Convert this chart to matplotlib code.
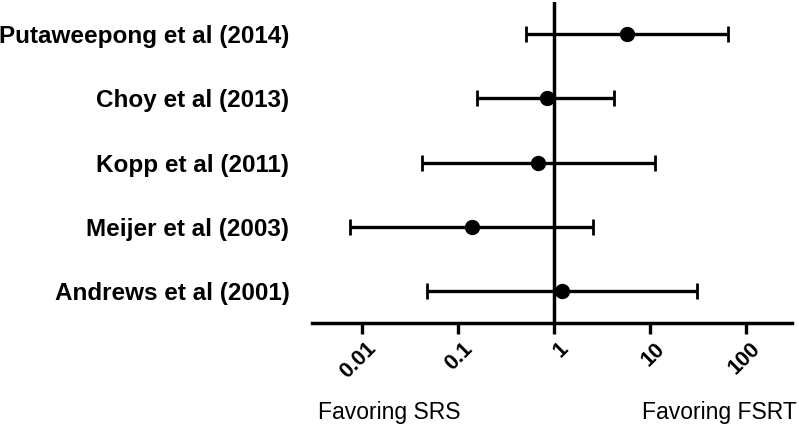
import matplotlib.pyplot as plt
import matplotlib.transforms as mtransforms
from matplotlib.ticker import FixedLocator, FixedFormatter

plt.rcParams['font.family'] = ['Liberation Sans', 'DejaVu Sans']

studies = ['Putaweepong et al (2014)', 'Choy et al (2013)', 'Kopp et al (2011)',
           'Meijer et al (2003)', 'Andrews et al (2001)']
estimate = [5.7, 0.84, 0.69, 0.141, 1.22]
lower = [0.515, 0.16, 0.0426, 0.0076, 0.048]
upper = [65.6, 4.19, 11.3, 2.57, 30.9]
ticks = [0.01, 0.1, 1, 10, 100]
tick_labels = ['0.01', '0.1', '1', '10', '100']

fig = plt.figure(figsize=(7.99, 4.25), dpi=100)
ax = fig.add_axes([0.39, 0.24, 0.601, 0.755])

ypos = list(range(len(studies), 0, -1))
err_lo = [e - l for e, l in zip(estimate, lower)]
err_hi = [u - e for e, u in zip(estimate, upper)]
ax.errorbar(estimate, ypos, xerr=[err_lo, err_hi], fmt='o', color='black',
            markersize=10, elinewidth=2.4, capsize=5.5, capthick=2, zorder=3)
ax.axvline(1, color='black', lw=2.5, zorder=2)

ax.set_xscale('log')
ax.set_xlim(0.003, 300)
ax.set_ylim(0.5, 5.5)
ax.xaxis.set_major_locator(FixedLocator(ticks))
ax.xaxis.set_major_formatter(FixedFormatter(tick_labels))
ax.xaxis.set_minor_locator(FixedLocator([]))
ax.tick_params(axis='x', length=8, width=2.4, direction='out', labelsize=15.5, pad=3)
shift = mtransforms.ScaledTranslation(4 / 100, 0, fig.dpi_scale_trans)
for lab in ax.get_xticklabels():
    lab.set_rotation(45)
    lab.set_ha('right')
    lab.set_rotation_mode('anchor')
    lab.set_fontweight('bold')
    lab.set_transform(lab.get_transform() + shift)

ax.set_yticks(ypos)
ax.set_yticklabels(studies, fontsize=17.5, fontweight='bold')
ax.tick_params(axis='y', length=0, pad=16)

for s in ['top', 'right', 'left']:
    ax.spines[s].set_visible(False)
ax.spines['bottom'].set_linewidth(2.5)

fig.text(318 / 799, 1 - 412 / 425, 'Favoring SRS', fontsize=16.5, va='center', ha='left')
fig.text(797 / 799, 1 - 412 / 425, 'Favoring FSRT', fontsize=16.5, va='center', ha='right')

fig.savefig('out.png', dpi=100)
